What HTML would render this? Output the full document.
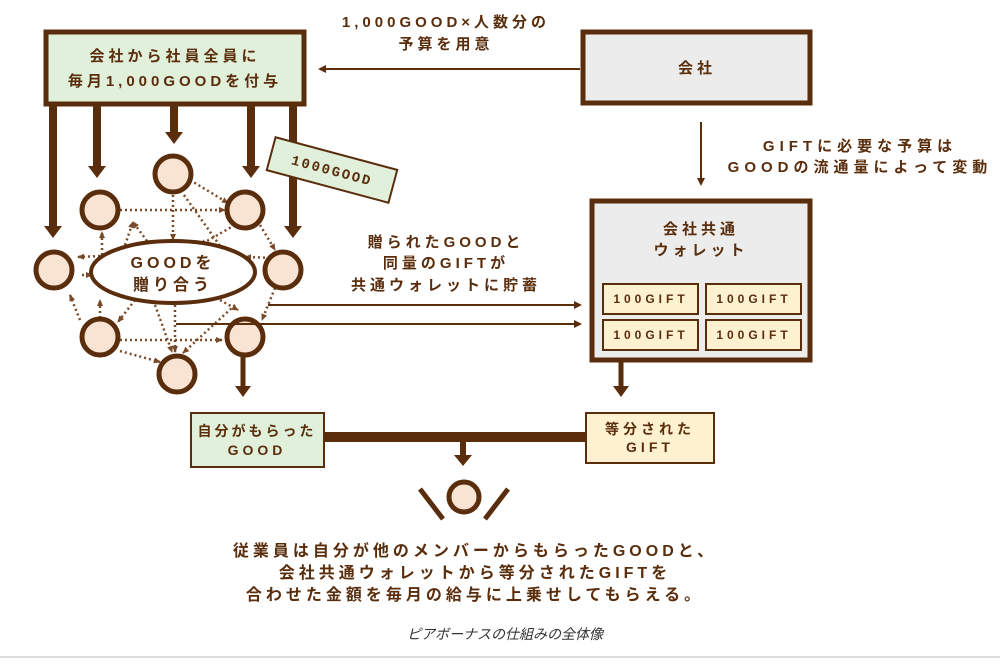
<!DOCTYPE html>
<html><head><meta charset="utf-8"><style>
body{margin:0;background:#fff;width:1000px;height:659px;overflow:hidden}
text{font-family:"Liberation Sans","Noto Sans CJK JP",sans-serif;font-weight:bold;fill:#5a2d0c;letter-spacing:4px}
</style></head><body>
<svg width="1000" height="659" viewBox="0 0 1000 659" xmlns="http://www.w3.org/2000/svg">
<defs>
<marker id="a" markerWidth="8" markerHeight="8" refX="6" refY="4" orient="auto" markerUnits="userSpaceOnUse"><path d="M0,0L8,4L0,8z" fill="#5a2d0c"/></marker>
<marker id="d" markerWidth="8" markerHeight="8" refX="6" refY="4" orient="auto" markerUnits="userSpaceOnUse"><path d="M0,1L7,4L0,7z" fill="#7a4a28"/></marker>
</defs>
<g stroke="#5a2d0c" fill="none">
<rect x="46" y="32" width="258" height="72" fill="#e0f0da" stroke-width="5"/>
<rect x="583" y="32" width="227" height="71" fill="#ececec" stroke-width="5"/>
<line x1="580" y1="69" x2="320" y2="69" stroke-width="2" marker-end="url(#a)"/>
<line x1="701" y1="122" x2="701" y2="184" stroke-width="2" marker-end="url(#a)"/>
<rect x="592" y="201" width="218" height="159" fill="#ececec" stroke-width="5"/>
<g fill="#fdf1d0" stroke-width="2">
<rect x="603" y="284" width="95" height="30"/><rect x="706" y="284" width="95" height="30"/>
<rect x="603" y="320" width="95" height="30"/><rect x="706" y="320" width="95" height="30"/>
</g>
<g stroke-width="8">
<line x1="53" y1="106" x2="53" y2="228"/><line x1="97" y1="106" x2="97" y2="168"/>
<line x1="174" y1="106" x2="174" y2="134"/><line x1="251" y1="106" x2="251" y2="168"/>
<line x1="293" y1="106" x2="293" y2="228"/>
</g>
<g fill="#5a2d0c" stroke="none">
<path d="M44,226h18l-9,12z"/><path d="M88,166h18l-9,12z"/><path d="M165,132h18l-9,12z"/><path d="M242,166h18l-9,12z"/><path d="M284,226h18l-9,12z"/>
</g>
<g stroke="#7a4a28" stroke-width="2.5" stroke-dasharray="2,3" marker-end="url(#d)">
<line x1="190" y1="180" x2="228" y2="203"/>
<line x1="120" y1="210" x2="225" y2="210"/>
<line x1="173" y1="195" x2="173" y2="240"/>
<line x1="184" y1="195" x2="230" y2="260"/>
<line x1="260" y1="225" x2="275" y2="250"/>
<line x1="235" y1="225" x2="200" y2="245"/>
<line x1="150" y1="245" x2="133" y2="222"/>
<line x1="102" y1="255" x2="102" y2="232"/>
<line x1="125" y1="245" x2="133" y2="222"/>
<line x1="100" y1="256" x2="78" y2="257"/>
<line x1="82" y1="275" x2="92" y2="275"/>
<line x1="275" y1="258" x2="245" y2="257"/>
<line x1="275" y1="288" x2="262" y2="320"/>
<line x1="100" y1="318" x2="100" y2="300"/>
<line x1="80" y1="320" x2="70" y2="295"/>
<line x1="135" y1="300" x2="118" y2="322"/>
<line x1="155" y1="305" x2="172" y2="352"/>
<line x1="235" y1="305" x2="183" y2="353"/>
<line x1="120" y1="340" x2="222" y2="340"/>
<line x1="120" y1="351" x2="160" y2="362"/>
<line x1="175" y1="305" x2="175" y2="352"/>
<line x1="220" y1="300" x2="238" y2="310"/>
</g>
<ellipse cx="173" cy="272" rx="82" ry="31" fill="#fff" stroke-width="4"/>
<g fill="#f9e3d3" stroke-width="5">
<circle cx="173" cy="174" r="18"/><circle cx="100" cy="210" r="18"/><circle cx="245" cy="210" r="18"/>
<circle cx="54" cy="270" r="18"/><circle cx="283" cy="270" r="18"/>
<circle cx="100" cy="337" r="18"/><circle cx="245" cy="337" r="18"/><circle cx="177" cy="374" r="18"/>
</g>
<line x1="268" y1="305" x2="580" y2="305" stroke-width="2" marker-end="url(#a)"/>
<line x1="176" y1="324" x2="580" y2="324" stroke-width="2" marker-end="url(#a)"/>
<g transform="translate(332,170) rotate(15)"><rect x="-63" y="-17" width="126" height="34" fill="#e0f0da" stroke-width="2"/></g>
<line x1="243" y1="355" x2="243" y2="388" stroke-width="5"/>
<path d="M235,386h16l-8,11z" fill="#5a2d0c" stroke="none"/>
<line x1="621" y1="362" x2="621" y2="388" stroke-width="5"/>
<path d="M613,386h16l-8,11z" fill="#5a2d0c" stroke="none"/>
<rect x="191" y="413" width="133" height="54" fill="#e0f0da" stroke-width="2"/>
<rect x="586" y="413" width="128" height="50" fill="#fdf1d0" stroke-width="2"/>
<line x1="324" y1="437" x2="586" y2="437" stroke-width="10"/>
<line x1="463" y1="437" x2="463" y2="456" stroke-width="6"/>
<path d="M454,455h18l-9,11z" fill="#5a2d0c" stroke="none"/>
<circle cx="464" cy="497" r="15" fill="#f9e3d3" stroke-width="5"/>
<line x1="420" y1="489" x2="443" y2="519" stroke-width="5"/>
<line x1="508" y1="489" x2="485" y2="519" stroke-width="5"/>
</g>
<line x1="0" y1="657" x2="1000" y2="657" stroke="#ddd" stroke-width="2"/>
<text x="332" y="175" font-size="14" text-anchor="middle" transform="rotate(15 332 170)" style="font-family:'Liberation Mono',monospace;letter-spacing:2px">1000GOOD</text>
<g font-size="15" text-anchor="middle">
<text x="175" y="61">会社から社員全員に</text>
<text x="175" y="86">毎月1,000GOODを付与</text>
<text x="446" y="27">1,000GOOD×人数分の</text>
<text x="446" y="49">予算を用意</text>
<text x="697" y="73">会社</text>
<text x="860" y="151" style="letter-spacing:5px">GIFTに必要な予算は</text>
<text x="860" y="172" style="letter-spacing:5px">GOODの流通量によって変動</text>
<text x="701" y="234">会社共通</text>
<text x="701" y="255">ウォレット</text>
<text x="446" y="247">贈られたGOODと</text>
<text x="446" y="268">同量のGIFTが</text>
<text x="446" y="290">共通ウォレットに貯蓄</text>
<text x="173" y="268" font-size="16">GOODを</text>
<text x="173" y="290" font-size="16">贈り合う</text>
<text x="257" y="436" font-size="14" style="letter-spacing:3px">自分がもらった</text>
<text x="257" y="455" font-size="14">GOOD</text>
<text x="650" y="434" font-size="14">等分された</text>
<text x="650" y="452" font-size="14">GIFT</text>
<g font-size="16" style="letter-spacing:4.8px">
<text x="475" y="556">従業員は自分が他のメンバーからもらったGOODと、</text>
<text x="475" y="578">会社共通ウォレットから等分されたGIFTを</text>
<text x="475" y="600">合わせた金額を毎月の給与に上乗せしてもらえる。</text>
</g>
</g>
<g font-size="12" text-anchor="middle">
<text x="651" y="303">100GIFT</text><text x="754" y="303">100GIFT</text>
<text x="651" y="339">100GIFT</text><text x="754" y="339">100GIFT</text>
</g>
<text x="505" y="639" font-size="14" text-anchor="middle" style="font-weight:normal;font-style:italic;fill:#333;letter-spacing:0">ピアボーナスの仕組みの全体像</text>
</svg>
</body></html>
